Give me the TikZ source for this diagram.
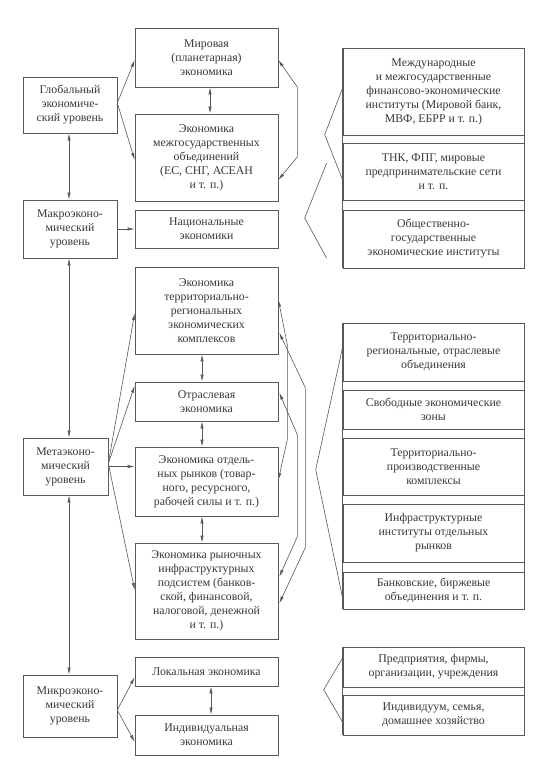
\documentclass[tikz,border=0pt]{standalone}
\usepackage{fontspec}
\setmainfont{Liberation Serif}
\usetikzlibrary{arrows.meta,calc}
\definecolor{linec}{gray}{0.35}
\definecolor{textc}{gray}{0.22}
\begin{document}
\begin{tikzpicture}[x=1pt,y=-1pt,
  box/.style={draw=linec, line width=0.6pt, text=textc, align=center, inner sep=0pt,
    font=\fontsize{11.8}{14}\selectfont},
  lbox/.style={box, minimum width=94pt},
  mbox/.style={box, minimum width=143pt},
  rbox/.style={box, minimum width=181pt},
  con/.style={draw=linec, line width=0.6pt},
  ar/.style={con, -{Latex[length=7pt,width=3.2pt]}},
  dar/.style={con, {Latex[length=7pt,width=3.2pt]}-{Latex[length=7pt,width=3.2pt]}},
]
\useasboundingbox[fill=white] (0,0) rectangle (550,765);

% left column
\node[lbox, minimum height=56pt] (glob) at (70,105) {Глобальный\\экономиче-\\ский уровень};
\node[lbox, minimum height=58pt] (macro) at (70,229) {Макроэконо-\\мический\\уровень};
\node[box, minimum width=85pt, minimum height=57pt] (meta) at (65.5,466.5) {Метаэконо-\\мический\\уровень};
\node[lbox, minimum height=62pt] (micro) at (70,706) {Микроэконо-\\мический\\уровень};

% middle column
\node[mbox, minimum height=59pt] (mir) at (206.5,57.5) {Мировая\\(планетарная)\\экономика};
\node[mbox, minimum height=87pt] (mezh) at (206.5,157.5) {Экономика\\межгосударственных\\объединений\\(ЕС, СНГ, АСЕАН\\и т. п.)};
\node[mbox, minimum height=38pt] (nac) at (206.5,229) {Национальные\\экономики};
\node[mbox, minimum height=87pt] (terr) at (206.5,310.5) {Экономика\\территориально-\\региональных\\экономических\\комплексов};
\node[mbox, minimum height=39pt] (otr) at (206.5,401.5) {Отраслевая\\экономика};
\node[mbox, minimum height=69pt] (otd) at (206.5,481.5) {Экономика отдель-\\ных рынков (товар-\\ного, ресурсного,\\рабочей силы и т. п.)};
\node[mbox, minimum height=96pt] (ryn) at (206.5,591) {Экономика рыночных\\инфраструктурных\\подсистем (банков-\\ской, финансовой,\\налоговой, денежной\\и т. п.)};
\node[mbox, minimum height=29pt] (lok) at (206.5,671.5) {Локальная экономика};
\node[mbox, minimum height=40pt] (ind) at (206.5,735) {Индивидуальная\\экономика};

% right column, group 1
\node[rbox, minimum height=87pt] (ga) at (433.5,91.5) {Международные\\и межгосударственные\\финансово-экономические\\институты (Мировой банк,\\МВФ, ЕБРР и т. п.)};
\node[rbox, minimum height=57pt] (gb) at (433.5,171.5) {ТНК, ФПГ, мировые\\предпринимательские сети\\и т. п.};
\node[rbox, minimum height=58pt] (gc) at (433.5,239) {Общественно-\\государственные\\экономические институты};
\draw[con] (ga.north west) -- (gc.south west);
\draw[con] (ga.north east) -- (gc.south east);

% group 2
\node[rbox, minimum height=58pt] (ha) at (433.5,352) {Территориально-\\региональные, отраслевые\\объединения};
\node[rbox, minimum height=39pt] (hb) at (433.5,409.5) {Свободные экономические\\зоны};
\node[rbox, minimum height=57pt] (hc) at (433.5,466.5) {Территориально-\\производственные\\комплексы};
\node[rbox, minimum height=58pt] (hd) at (433.5,533) {Инфраструктурные\\институты отдельных\\рынков};
\node[rbox, minimum height=37pt] (he) at (433.5,590.5) {Банковские, биржевые\\объединения и т. п.};
\draw[con] (ha.north west) -- (he.south west);
\draw[con] (ha.north east) -- (he.south east);

% group 3
\node[rbox, minimum height=40pt] (ka) at (433.5,667) {Предприятия, фирмы,\\организации, учреждения};
\node[rbox, minimum height=40pt] (kb) at (433.5,715) {Индивидуум, семья,\\домашнее хозяйство};
\draw[con] (ka.north west) -- (kb.south west);
\draw[con] (ka.north east) -- (kb.south east);

% vertical level arrows
\draw[dar] ($(glob.south)+(-1,0)$) -- ($(macro.north)+(-1,0)$);
\coordinate (vx) at ($(macro.south)+(-1,0)$);
\draw[dar] (vx) -- (vx |- meta.north);
\draw[dar] (vx |- meta.south) -- ($(micro.north)+(-1,0)$);

% global
\draw[ar] ($(glob.east)+(0,-2)$) -- ($(mir.west)+(0,2.5)$);
\draw[ar] ($(glob.east)+(0,-2)$) -- ($(mezh.west)+(0,2.5)$);
\draw[dar] ($(mir.south)+(3.5,0)$) -- ($(mezh.north)+(3.5,0)$);
\draw[dar] ($(mir.east)+(0,2.5)$) -- ++(19,27) -- ++(0,70) -- ($(mezh.east)+(0,22.5)$);

% macro
\draw[ar] (macro.east) -- (nac.west);

% meta
\draw[ar] ($(meta.east)+(0,-3)$) -- ($(terr.west)+(0,2.5)$);
\draw[ar] ($(meta.east)+(0,-3)$) -- ($(otr.north west)+(0,4)$);
\draw[ar] (meta.east) -- (meta.east -| otd.west);
\draw[ar] ($(meta.east)+(0,-3)$) -- ($(ryn.west)+(0,-1)$);
\draw[dar] ($(terr.south)+(-4.5,0)$) -- ($(otr.north)+(-4.5,0)$);
\draw[dar] ($(otr.south)+(-4.5,0)$) -- ($(otd.north)+(-4.5,0)$);
\draw[dar] ($(otd.south)+(-4.5,0)$) -- ($(ryn.north)+(-4.5,0)$);
\draw[dar] ($(terr.north east)+(0,33)$) -- ++(9,45) -- ++(0,95) -- ($(otd.east)+(0,-1.5)$);
\draw[dar] ($(terr.north east)+(1,66)$) -- ++(26,55) -- ++(0,160) -- ($(ryn.south east)+(1,-36)$);
\draw[dar] ($(otr.north east)+(1,11)$) -- ++(18,42) -- ++(0,102) -- ($(ryn.north east)+(1,34)$);

% micro
\draw[ar] ($(micro.east)+(0,4)$) -- ($(lok.west)+(0,5.5)$);
\draw[ar] ($(micro.east)+(0,4)$) -- ($(ind.west)+(0,7)$);
\draw[dar] ($(lok.south)+(4.5,0)$) -- ($(ind.north)+(4.5,0)$);

% brackets
\coordinate (b1a) at ($(ga.north west)+(0,40)$);
\coordinate (b1b) at ($(ga.north west)+(-18,87)$);
\coordinate (b1c) at ($(gb.west)+(0,8.5)$);
\draw[con] (b1a) -- (b1b) -- (b1c);
\coordinate (b2a) at ($(gb.west)+(-16,-8.5)$);
\coordinate (b2c) at ($(gc.south west)+(-16,-10)$);
\draw[con] (b2a) -- ++(-22,55) -- (b2c);
\draw[con] ($(ha.north west)+(0,24)$) -- ++(-27,123) -- ($(he.south west)+(0,-11)$);
\draw[con] ($(ka.north west)+(0,11)$) -- ++(-19,32) -- ($(kb.south west)+(0,-13)$);
\end{tikzpicture}
\end{document}
